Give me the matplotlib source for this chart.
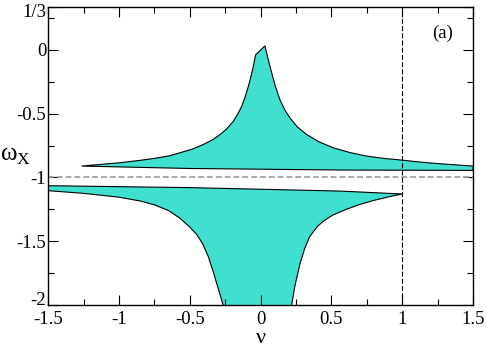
import matplotlib
matplotlib.use("Agg")
import matplotlib.pyplot as plt
import matplotlib.transforms as mtransforms
from matplotlib.ticker import MultipleLocator

plt.rcParams['font.family'] = ['Liberation Serif', 'DejaVu Serif']
plt.rcParams['mathtext.fontset'] = 'custom'
plt.rcParams['mathtext.rm'] = 'Liberation Serif'

# upper band: top edge (left wing, cusp, right wing) and bottom edge
up_top_x = [-1.265, -1.1, -0.994, -0.85, -0.758, -0.65, -0.57, -0.48, -0.405, -0.34,
            -0.287, -0.24, -0.193, -0.16, -0.134, -0.11, -0.087, -0.07, -0.057, -0.045,
            -0.035, 0.03, 0.05, 0.078, 0.105, 0.136, 0.17, 0.207, 0.26, 0.325,
            0.41, 0.513, 0.63, 0.749, 0.87, 1.003, 1.12, 1.243, 1.37, 1.5]
up_top_y = [-0.911, -0.895, -0.885, -0.866, -0.852, -0.832, -0.807, -0.777, -0.742, -0.705,
            -0.664, -0.62, -0.56, -0.50, -0.443, -0.37, -0.287, -0.215, -0.156, -0.09,
            -0.039, 0.031, -0.06, -0.182, -0.29, -0.391, -0.47, -0.534, -0.605, -0.664,
            -0.72, -0.768, -0.805, -0.833, -0.851, -0.865, -0.879, -0.891, -0.901, -0.911]
up_bot_x = [-1.265, -0.5, 0.56, 1.5]
up_bot_y = [-0.911, -0.930, -0.942, -0.945]

# lower band: top edge, left branch and right branch of the bottom edge
lo_top_x = [-1.5, -0.5, 0.56, 1.0]
lo_top_y = [-1.065, -1.080, -1.107, -1.130]
lo_left_x = [-1.5, -1.25, -1.0, -0.85, -0.75, -0.65, -0.57, -0.50, -0.45, -0.41,
             -0.37, -0.335, -0.30, -0.265, -0.255]
lo_left_y = [-1.104, -1.125, -1.155, -1.185, -1.215, -1.26, -1.32, -1.39, -1.45, -1.52,
             -1.62, -1.74, -1.87, -2.0, -2.1]
lo_right_x = [0.212, 0.219, 0.242, 0.277, 0.31, 0.343, 0.40, 0.45, 0.51, 0.60,
              0.70, 0.80, 0.90, 1.0]
lo_right_y = [-2.1, -2.0, -1.85, -1.68, -1.56, -1.47, -1.385, -1.337, -1.295, -1.252,
              -1.212, -1.18, -1.153, -1.13]

xticks = [-1.5, -1, -0.5, 0, 0.5, 1, 1.5]
xticklabels = ['-1.5', '-1', '-0.5', '0', '0.5', '1', '1.5']
yticks = [1/3, 0, -0.5, -1, -1.5, -2]
yticklabels = ['1/3', '0', '-0.5', '-1', '-1.5', '-2']

fill_col = '#40E0D0'

fig = plt.figure(figsize=(4.86, 3.47), dpi=100)
ax = fig.add_axes([0.0994, 0.121, 0.8739, 0.858])

# upper band polygon
px = up_top_x + up_bot_x[::-1]
py = up_top_y + up_bot_y[::-1]
ax.fill(px, py, facecolor=fill_col, edgecolor='black', lw=0.8)

# lower band polygon
px = lo_top_x + lo_right_x[::-1][1:] + lo_left_x[::-1]
py = lo_top_y + lo_right_y[::-1][1:] + lo_left_y[::-1]
ax.fill(px, py, facecolor=fill_col, edgecolor='black', lw=0.8)

ax.axhline(-1, color='#999999', lw=1.2, dashes=(3.5, 1.8))
ax.axvline(1, color='black', lw=0.8, dashes=(4.5, 2))

ax.set_xlim(-1.5, 1.5)
ax.set_ylim(-2, 1/3)
ax.set_xticks(xticks)
ax.set_xticklabels(xticklabels)
ax.set_yticks(yticks)
ax.set_yticklabels(yticklabels)
ax.xaxis.set_minor_locator(MultipleLocator(0.25))
ax.yaxis.set_minor_locator(MultipleLocator(0.25))
ax.tick_params(which='both', direction='in', top=True, right=True, labelsize=13.5, width=0.8)
ax.tick_params(which='major', length=7)
ax.tick_params(which='minor', length=4)
ax.tick_params(axis='x', which='major', pad=4)
ax.tick_params(axis='y', which='major', pad=1.5)
for s in ax.spines.values():
    s.set_linewidth(1.0)

# nudge the end labels on the y axis like the original
labs = ax.get_yticklabels()
labs[0].set_transform(labs[0].get_transform() +
                      mtransforms.ScaledTranslation(0, -2 / 72, fig.dpi_scale_trans))
labs[-1].set_transform(labs[-1].get_transform() +
                       mtransforms.ScaledTranslation(0, 5 / 72, fig.dpi_scale_trans))

ax.set_xlabel('ν', fontsize=16, va='center')
ax.xaxis.set_label_coords(0.5, -0.112)
ax.set_ylabel('ω$_\\mathrm{X}$', fontsize=18, rotation=0, ha='center', va='center')
ax.yaxis.set_label_coords(-0.078, 0.5)

ax.text(1.287, 0.133, '(a)', fontsize=13.5, ha='center', va='center')

fig.savefig('out.png', dpi=100)
